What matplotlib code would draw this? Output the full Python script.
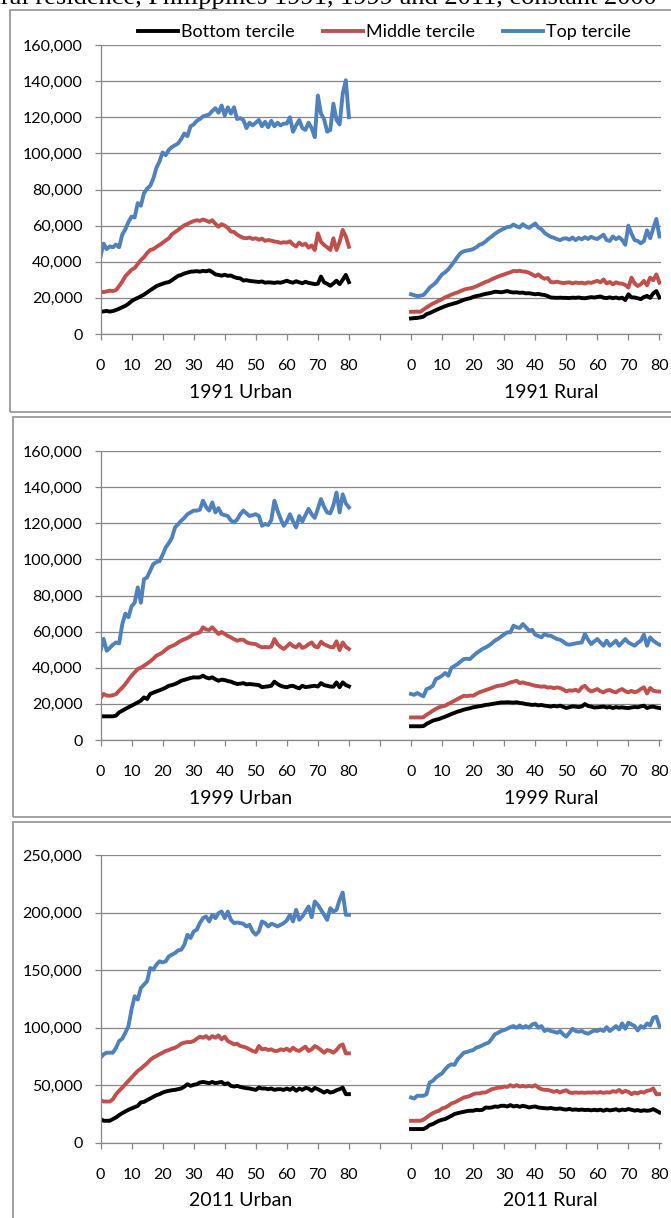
import numpy as np
import matplotlib
matplotlib.use("Agg")
import matplotlib.pyplot as plt
from matplotlib.patches import Rectangle
from matplotlib.ticker import FuncFormatter

plt.rcParams['font.family'] = ['Lato', 'DejaVu Sans']

# ages 0..80, values in thousands of pesos
ages = np.arange(81)
rural_offset = 100

tercile_names = ["Bottom tercile", "Middle tercile", "Top tercile"]
tercile_colors = ["#000000", "#C0504D", "#4F81BD"]

u91_b = [12.3, 12.5, 12.8, 12.4, 12.7, 13.3, 14.0, 14.8, 15.6, 16.7,
         18.2, 19.2, 20.0, 20.9, 21.8, 23.0, 24.2, 25.3, 26.5, 27.2,
         27.8, 28.4, 28.7, 29.8, 31.0, 32.2, 32.7, 33.5, 34.0, 34.5,
         34.6, 34.8, 34.5, 35.0, 34.7, 35.2, 34.3, 33.0, 32.7, 32.3,
         32.8, 32.2, 32.4, 31.5, 31.0, 30.8, 29.6, 29.8, 29.4, 29.2,
         29.0, 28.8, 29.1, 28.4, 28.6, 28.5, 28.3, 28.6, 28.4, 28.9,
         29.5, 28.8, 28.4, 29.2, 28.6, 28.1, 28.9, 28.3, 28.0, 27.6,
         27.8, 31.8, 28.6, 27.8, 26.7, 28.0, 29.5, 27.6, 30.0, 32.7, 28.7]
u91_m = [23.4, 23.2, 23.6, 24.0, 23.8, 24.3, 26.5, 29.0, 32.0, 33.8,
         35.6, 36.5, 38.8, 41.0, 42.5, 44.8, 46.5, 47.0, 48.2, 49.3,
         50.5, 51.8, 53.0, 55.2, 56.4, 57.6, 59.0, 60.2, 60.9, 61.8,
         62.5, 63.0, 62.6, 63.4, 62.8, 62.0, 63.0, 61.0, 59.4, 60.8,
         60.0, 58.7, 56.7, 56.5, 55.0, 54.0, 53.2, 53.0, 53.4, 52.6,
         53.0, 52.2, 52.8, 51.6, 52.0, 51.7, 51.2, 51.0, 50.4, 50.8,
         50.6, 51.3, 49.5, 48.5, 50.6, 49.2, 50.0, 47.8, 49.0, 46.5,
         55.7, 51.0, 49.3, 48.0, 46.5, 53.0, 46.5, 51.0, 57.6, 54.0, 48.3]
u91_t = [43.0, 50.0, 47.0, 48.5, 48.0, 49.5, 48.0, 55.0, 58.0, 62.0,
         65.0, 64.5, 72.5, 71.0, 78.0, 80.5, 82.0, 86.0, 92.0, 95.5,
         100.5, 99.0, 102.0, 103.5, 104.5, 105.5, 108.0, 111.0, 109.5, 115.0,
         116.0, 118.0, 119.0, 120.5, 121.0, 121.5, 123.5, 125.0, 122.5, 126.5,
         121.0, 125.5, 122.0, 125.5, 119.0, 119.5, 118.5, 114.0, 117.0, 115.5,
         117.0, 118.5, 115.0, 117.5, 114.5, 118.0, 115.0, 117.0, 115.5, 116.5,
         116.5, 120.0, 112.0, 115.5, 118.5, 114.0, 113.0, 117.0, 114.0, 109.0,
         132.0, 122.0, 119.0, 112.0, 113.0, 127.5, 118.5, 116.0, 133.0, 140.5, 120.0]

r91_b = [8.6, 8.8, 8.9, 9.2, 9.6, 11.0, 11.6, 12.4, 13.2, 14.0,
         14.7, 15.4, 16.0, 16.5, 17.0, 17.5, 18.2, 18.9, 19.4, 19.8,
         20.5, 21.0, 21.3, 21.8, 22.2, 22.5, 22.9, 23.4, 23.3, 23.1,
         23.4, 23.8, 23.2, 23.0, 23.1, 22.8, 22.9, 22.5, 22.6, 22.3,
         22.0, 22.2, 21.8, 21.6, 21.0, 20.2, 20.1, 20.0, 20.1, 20.0,
         20.0, 19.9, 20.1, 20.0, 20.2, 19.9, 19.8, 20.1, 20.4, 20.2,
         20.5, 20.8, 20.1, 19.9, 20.3, 19.8, 20.2, 19.7, 20.1, 18.8,
         22.0, 20.3, 20.2, 19.8, 19.3, 20.5, 21.1, 20.0, 22.5, 23.8, 20.2]
r91_m = [12.3, 12.3, 12.4, 12.3, 13.5, 14.7, 15.8, 16.8, 17.6, 18.5,
         19.3, 20.3, 21.0, 21.8, 22.5, 23.0, 23.8, 24.5, 25.0, 25.3,
         25.7, 26.4, 27.2, 28.0, 28.8, 29.4, 30.3, 31.0, 31.8, 32.4,
         33.0, 33.6, 34.2, 34.9, 34.8, 35.0, 34.6, 34.5, 33.9, 33.0,
         32.0, 33.0, 31.5, 30.6, 31.0, 28.8, 28.6, 29.0, 28.5, 28.2,
         28.4, 28.6, 28.0, 28.5, 28.2, 28.4, 27.9, 28.6, 28.3, 28.9,
         29.4, 28.6, 30.2, 28.0, 28.8, 27.5, 28.6, 28.0, 27.8, 27.2,
         25.7, 31.2, 28.0, 26.6, 27.5, 29.4, 27.0, 31.2, 29.8, 33.0, 28.4]
r91_t = [22.0, 21.5, 21.0, 21.2, 21.6, 23.5, 25.7, 27.0, 28.5, 30.8,
         33.0, 34.2, 35.8, 38.0, 40.3, 42.8, 44.9, 45.8, 46.2, 46.5,
         47.0, 48.0, 49.4, 50.0, 51.2, 52.8, 54.0, 55.4, 56.6, 57.6,
         58.4, 59.2, 59.4, 60.6, 59.6, 59.0, 60.8, 59.5, 58.8, 60.0,
         61.2, 59.0, 58.0, 56.0, 54.8, 53.8, 53.3, 52.5, 52.0, 52.8,
         53.0, 52.2, 53.4, 52.0, 53.2, 52.4, 53.6, 52.6, 53.8, 53.0,
         52.6, 53.8, 55.0, 52.0, 51.5, 54.0, 52.5, 53.6, 52.0, 49.4,
         60.0, 55.5, 52.0, 51.5, 50.2, 51.5, 57.4, 53.0, 58.5, 63.7, 54.0]

u99_b = [13.1, 13.1, 13.1, 13.1, 13.1, 13.5, 15.3, 16.2, 17.2, 18.1,
         19.0, 19.9, 20.8, 21.8, 23.6, 22.7, 25.5, 26.2, 26.9, 27.5,
         28.2, 29.0, 30.0, 30.4, 31.0, 31.8, 32.8, 33.3, 33.8, 34.3,
         34.7, 34.6, 34.7, 35.6, 34.6, 34.1, 34.7, 33.6, 32.8, 33.4,
         33.2, 32.6, 32.3, 31.6, 31.0, 31.2, 31.5, 30.8, 31.0, 30.8,
         30.6, 30.4, 29.2, 29.5, 29.7, 30.0, 32.3, 31.0, 30.0, 29.5,
         29.2, 29.8, 30.0, 29.2, 28.6, 30.0, 29.3, 29.5, 29.8, 30.0,
         29.6, 31.5, 30.4, 30.0, 29.6, 29.5, 31.9, 29.2, 31.9, 30.4, 29.7]
u99_m = [23.2, 25.5, 24.6, 24.5, 24.8, 25.4, 27.3, 29.0, 31.0, 33.3,
         35.6, 37.5, 39.3, 40.0, 41.1, 42.3, 43.5, 45.0, 46.7, 47.5,
         48.5, 50.0, 51.3, 52.0, 52.8, 54.0, 55.0, 55.8, 56.5, 57.5,
         58.7, 59.0, 59.6, 62.4, 61.2, 60.9, 62.4, 60.5, 58.7, 59.8,
         58.7, 57.6, 56.8, 55.8, 55.0, 55.5, 55.5, 54.2, 53.5, 53.3,
         53.1, 52.0, 51.3, 51.5, 51.3, 51.7, 55.9, 53.0, 51.5, 50.4,
         51.8, 53.5, 52.0, 51.3, 53.1, 51.0, 51.7, 53.0, 54.0, 51.8,
         51.3, 54.4, 53.0, 52.2, 51.5, 51.3, 54.6, 49.8, 54.0, 51.6, 50.4]
u99_t = [49.4, 56.0, 49.4, 51.0, 52.8, 54.0, 53.5, 64.0, 70.0, 68.0,
         74.0, 76.0, 84.5, 76.0, 89.0, 90.0, 93.7, 97.4, 98.5, 99.0,
         102.5, 106.6, 109.0, 112.0, 117.7, 119.5, 121.4, 123.0, 125.0, 126.0,
         127.0, 127.0, 127.5, 132.5, 129.0, 127.0, 131.5, 126.0, 128.4, 125.0,
         124.5, 124.0, 121.5, 120.5, 122.0, 125.0, 127.0, 125.5, 124.0, 124.5,
         125.0, 124.0, 118.6, 119.6, 119.0, 121.8, 132.5, 127.0, 122.5, 118.6,
         121.0, 125.0, 121.0, 117.7, 124.0, 121.0, 124.5, 128.0, 125.0, 123.0,
         128.0, 133.4, 129.0, 126.0, 125.5, 130.0, 137.0, 126.0, 136.0, 131.0, 128.8]

r99_b = [7.6, 7.6, 7.6, 7.6, 7.7, 8.9, 9.8, 10.7, 11.2, 11.6,
         12.3, 12.9, 13.6, 14.4, 15.0, 15.7, 16.2, 16.8, 17.2, 17.6,
         18.1, 18.4, 18.7, 19.0, 19.4, 19.6, 19.9, 20.2, 20.5, 20.8,
         20.8, 20.9, 20.8, 20.7, 20.9, 20.5, 20.3, 19.9, 19.7, 19.4,
         19.6, 19.2, 19.4, 19.0, 18.8, 18.5, 18.9, 18.6, 19.0, 18.4,
         17.7, 18.2, 18.6, 18.5, 18.2, 18.6, 19.9, 18.8, 18.5, 18.0,
         18.1, 18.3, 18.5, 18.0, 18.3, 17.7, 18.2, 17.9, 18.1, 17.8,
         17.7, 18.0, 18.3, 18.1, 18.6, 19.0, 17.7, 18.3, 18.5, 18.0, 17.7]
r99_m = [12.5, 12.5, 12.5, 12.5, 12.6, 14.0, 15.0, 16.2, 17.2, 18.1,
         18.6, 19.0, 20.0, 20.8, 21.8, 22.7, 23.6, 24.5, 24.3, 24.6,
         24.5, 25.5, 26.4, 27.0, 27.6, 28.2, 28.8, 29.5, 30.0, 30.2,
         30.6, 31.2, 31.9, 32.3, 32.8, 31.5, 31.9, 31.3, 31.0, 30.5,
         30.0, 29.8, 29.5, 29.7, 29.0, 29.2, 28.7, 29.1, 28.8, 28.0,
         26.9, 27.5, 27.3, 27.8, 27.0, 29.2, 30.0, 28.0, 26.9, 27.5,
         28.2, 27.0, 26.4, 27.4, 27.7, 26.8, 26.4, 27.5, 28.2, 27.0,
         26.4, 27.2, 26.4, 27.0, 28.2, 29.2, 25.8, 28.8, 27.3, 26.9, 26.8]
r99_t = [25.5, 25.0, 26.0, 25.0, 24.2, 28.2, 28.8, 30.0, 33.8, 34.5,
         35.6, 37.1, 35.6, 39.9, 41.0, 42.0, 43.5, 44.8, 45.0, 44.8,
         46.5, 48.0, 49.2, 50.4, 51.2, 52.2, 53.5, 55.0, 56.0, 57.2,
         58.5, 59.6, 59.6, 63.3, 62.4, 62.0, 64.2, 62.4, 60.5, 61.0,
         58.3, 57.6, 56.8, 58.7, 57.8, 57.7, 56.8, 55.9, 55.5, 54.5,
         53.1, 52.8, 53.1, 53.5, 53.8, 54.0, 58.7, 55.5, 53.1, 54.6,
         55.9, 54.0, 52.2, 55.0, 52.2, 53.5, 55.0, 52.2, 54.0, 55.9,
         54.0, 53.1, 52.2, 53.8, 55.0, 58.3, 52.2, 56.8, 55.0, 53.7, 52.8]

u11_b = [20.8, 19.3, 19.3, 19.3, 20.8, 22.2, 24.2, 25.9, 27.4, 28.8,
         30.0, 31.1, 32.3, 35.2, 35.7, 37.2, 38.6, 40.1, 41.5, 42.4,
         43.8, 44.7, 45.3, 45.8, 46.1, 46.7, 47.3, 49.0, 51.0, 49.6,
         50.5, 51.0, 52.5, 53.0, 52.5, 51.9, 53.0, 51.9, 52.5, 53.0,
         51.0, 51.9, 49.6, 49.0, 49.6, 48.7, 48.1, 47.6, 47.3, 46.7,
         46.1, 48.1, 47.3, 47.3, 46.7, 47.3, 46.1, 46.7, 46.7, 46.1,
         47.3, 46.1, 47.8, 45.3, 47.3, 46.1, 47.8, 47.3, 45.3, 47.8,
         46.7, 45.3, 43.8, 45.3, 43.8, 44.4, 45.8, 46.7, 48.1, 42.4, 42.4]
u11_m = [37.2, 36.0, 36.0, 36.0, 38.0, 42.4, 45.3, 48.1, 51.0, 53.9,
         56.8, 59.7, 62.6, 64.6, 66.9, 69.2, 72.1, 74.1, 75.5, 77.0,
         78.4, 79.9, 80.7, 81.9, 82.7, 84.2, 86.2, 87.1, 87.6, 87.6,
         88.5, 90.5, 92.3, 91.4, 92.8, 90.5, 92.8, 91.4, 93.4, 90.0,
         92.3, 88.5, 87.1, 85.6, 86.2, 84.2, 83.6, 82.7, 81.3, 79.9,
         79.0, 84.2, 81.3, 81.9, 80.7, 81.3, 79.9, 79.9, 81.3, 80.7,
         81.9, 79.9, 82.7, 80.7, 79.9, 81.9, 83.6, 79.9, 81.3, 84.2,
         82.7, 80.7, 78.4, 80.7, 79.9, 78.4, 80.7, 84.2, 85.6, 77.8, 77.8]
u11_t = [74.0, 77.0, 78.4, 78.4, 78.4, 82.7, 88.5, 90.5, 95.7, 101.5,
         115.9, 127.4, 124.5, 134.6, 137.5, 140.4, 151.9, 150.5, 154.8, 157.7,
         156.8, 157.7, 162.0, 163.5, 164.9, 167.2, 167.8, 172.1, 180.8, 177.9,
         183.6, 185.1, 190.9, 195.2, 196.6, 192.3, 198.1, 195.2, 199.5, 200.9,
         195.2, 200.9, 193.7, 190.9, 191.4, 190.9, 190.3, 188.0, 189.4, 183.6,
         180.8, 183.6, 192.3, 190.9, 188.0, 190.3, 189.4, 188.0, 189.4, 190.9,
         193.2, 198.1, 192.3, 202.4, 193.7, 196.6, 200.9, 205.3, 196.0, 209.6,
         206.7, 202.4, 198.1, 193.7, 203.8, 200.9, 202.4, 211.0, 217.4, 198.1, 198.1]

r11_b = [12.1, 12.1, 12.1, 12.1, 12.1, 13.5, 15.6, 16.4, 17.9, 19.3,
         20.2, 20.8, 22.2, 23.6, 25.1, 25.9, 26.5, 27.1, 27.7, 28.0,
         28.0, 28.8, 28.5, 28.8, 30.8, 30.6, 30.8, 31.7, 31.4, 32.3,
         32.3, 31.7, 32.9, 31.7, 32.3, 31.4, 32.3, 31.7, 30.8, 31.4,
         31.7, 30.8, 30.5, 30.2, 30.0, 30.4, 29.8, 29.6, 30.0, 29.3,
         29.0, 29.6, 28.8, 29.1, 28.7, 29.0, 28.6, 28.8, 28.4, 28.8,
         28.4, 28.9, 28.0, 29.0, 28.3, 28.7, 29.3, 28.2, 29.0, 28.6,
         29.5, 28.8, 28.1, 28.6, 27.8, 28.4, 28.0, 28.3, 29.4, 28.0, 26.5]
r11_m = [19.3, 19.3, 19.3, 19.3, 20.2, 22.2, 24.2, 25.9, 27.1, 28.0,
         30.0, 30.8, 32.3, 34.3, 35.2, 36.6, 38.0, 39.5, 40.1, 40.9,
         42.4, 43.0, 43.0, 43.8, 43.8, 45.3, 46.7, 47.3, 48.1, 48.1,
         49.0, 48.7, 50.2, 49.0, 50.2, 49.0, 49.6, 49.0, 49.6, 49.0,
         50.2, 48.1, 46.7, 46.1, 46.1, 45.3, 44.4, 45.3, 43.8, 45.0,
         45.8, 43.8, 43.5, 43.9, 43.6, 43.8, 43.5, 43.9, 43.7, 44.0,
         43.6, 44.2, 43.5, 44.0, 43.8, 45.0, 44.4, 46.1, 43.8, 45.3,
         44.4, 42.4, 43.8, 43.0, 44.4, 43.8, 45.3, 45.8, 47.3, 42.4, 42.4]
r11_t = [39.5, 38.6, 41.0, 41.0, 41.0, 42.4, 52.5, 53.9, 56.8, 58.8,
         60.5, 64.0, 66.9, 68.3, 67.8, 72.7, 75.5, 78.4, 79.0, 79.9,
         80.7, 82.7, 83.6, 84.8, 86.2, 87.1, 90.5, 94.3, 95.7, 97.2,
         98.0, 99.2, 100.6, 101.5, 100.0, 102.0, 100.0, 101.5, 100.0, 102.9,
         103.8, 100.0, 101.5, 97.2, 98.6, 97.2, 96.6, 95.7, 97.2, 94.3,
         92.3, 95.7, 99.2, 97.2, 96.6, 97.2, 95.7, 94.9, 96.3, 97.7,
         97.2, 98.6, 97.2, 100.6, 97.2, 99.2, 101.5, 98.6, 103.8, 99.2,
         104.4, 102.9, 101.5, 97.7, 101.5, 100.0, 103.8, 102.0, 108.7, 109.6, 101.5]

panels = [
    ("1991", [u91_b, u91_m, u91_t], [r91_b, r91_m, r91_t], 160000, 20000),
    ("1999", [u99_b, u99_m, u99_t], [r99_b, r99_m, r99_t], 160000, 20000),
    ("2011", [u11_b, u11_m, u11_t], [r11_b, r11_m, r11_t], 250000, 50000),
]

xticks = list(range(0, 181, 10))
xlabels = [str(a) for a in range(0, 81, 10)] + [""] + [str(a) for a in range(0, 81, 10)]

W, H = 671, 1218
# pixel layout of each panel: (box top, box bottom, box left, axis top, axis bottom)
layout = [(10, 412, 10, 45, 334), (417, 817, 12.7, 451, 740), (822, 1230, 12.7, 855, 1143)]

fig = plt.figure(figsize=(W / 100, H / 100), dpi=100)
grey = "#878787"

# title line above the first panel, cut off by the top edge as in the source
fig.text(-21 / W, 1 - 4 / H, "rural residence, Philippines 1991, 1999 and 2011, constant 2000",
         family="Liberation Serif", fontsize=19, ha="left", va="baseline")

handles = None
for (year, urban, rural, ymax, ystep), (bt, bb, bl, at, ab) in zip(panels, layout):
    fig.patches.append(Rectangle((bl / W, 1 - bb / H), (W + 20 - bl) / W, (bb - bt) / H,
                                 transform=fig.transFigure, fill=False,
                                 edgecolor="#9a9a9a", linewidth=1.3))
    ax = fig.add_axes([100.5 / W, 1 - ab / H, (661 - 100.5) / W, (ab - at) / H])
    lines = []
    for vals, col in zip(urban, tercile_colors):
        ln, = ax.plot(ages, np.array(vals) * 1000, color=col, lw=2.8, solid_joinstyle="round")
        lines.append(ln)
    for vals, col in zip(rural, tercile_colors):
        ax.plot(ages + rural_offset, np.array(vals) * 1000, color=col, lw=2.8, solid_joinstyle="round")
    if handles is None:
        handles = lines

    ax.set_xlim(0, 180.5)
    ax.set_ylim(0, ymax)
    ax.set_yticks(np.arange(0, ymax + 1, ystep))
    ax.yaxis.set_major_formatter(FuncFormatter(lambda v, p: f"{int(v):,}"))
    ax.set_xticks(xticks)
    ax.set_xticklabels(xlabels)
    ax.yaxis.grid(True, color=grey, lw=0.9)
    ax.set_axisbelow(True)
    for s in ("top", "right"):
        ax.spines[s].set_visible(False)
    for s in ("left", "bottom"):
        ax.spines[s].set_color(grey)
        ax.spines[s].set_linewidth(0.9)
    ax.tick_params(axis="y", direction="out", length=4, width=0.9, color=grey,
                   pad=9, labelsize=11.5)
    ax.tick_params(axis="x", direction="out", length=4, width=0.9, color=grey,
                   pad=14, labelsize=11.5)
    for xc, name in ((45, "Urban"), (145, "Rural")):
        ax.annotate(f"{year} {name}", xy=(xc, 0), xycoords=("data", "axes fraction"),
                    xytext=(0, -58 * 0.72), textcoords="offset points",
                    ha="center", va="center", fontsize=14)

fig.legend(handles, tercile_names, loc="center", bbox_to_anchor=(384.5 / W, 1 - 32 / H),
           ncol=3, frameon=False, fontsize=13, handlelength=2.2, handletextpad=0.15,
           columnspacing=1.6)

fig.savefig("out.png", dpi=100)
